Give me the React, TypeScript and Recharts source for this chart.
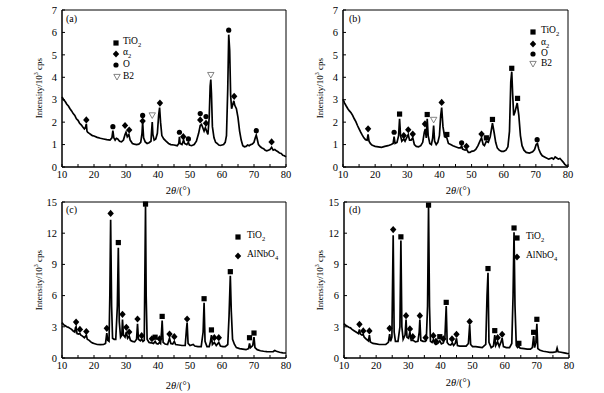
import { ComposedChart, Line, Scatter, XAxis, YAxis, ReferenceArea } from 'recharts'

type Pt = [number, number]

const FONT = '"Liberation Serif", "Times New Roman", serif'

const xTicks = [10, 15, 20, 25, 30, 35, 40, 45, 50, 55, 60, 65, 70, 75, 80]
const yTicksTop = [0, 1, 2, 3, 4, 5, 6, 7]
const yTicksBottom = [0, 3, 6, 9, 12, 15]

// (a)
const curveA: Pt[] = [
  [10, 3.12], [10.5, 3.0], [11, 2.92], [11.5, 2.8], [12, 2.72], [12.5, 2.6], [13, 2.5], [13.5, 2.38], [14, 2.3], [14.5, 2.15],
  [15, 2.08], [15.5, 1.95], [16, 1.88], [16.5, 1.78], [17, 1.7], [17.3, 1.75], [17.6, 1.92], [17.8, 1.6], [18, 1.55], [18.5, 1.5],
  [19, 1.45], [19.5, 1.4], [20, 1.38], [21, 1.32], [22, 1.28], [23, 1.25], [24, 1.22], [25, 1.2], [25.6, 1.3], [25.9, 1.62],
  [26.2, 1.3], [26.6, 1.2], [27, 1.28], [27.4, 1.25], [28, 1.15], [28.6, 1.12], [29.2, 1.2], [29.7, 1.45], [30, 1.55], [30.4, 1.35],
  [30.9, 1.45], [31.3, 1.2], [32, 1.05], [32.6, 1.02], [33.3, 1.0], [34, 1.02], [34.6, 1.1], [35.0, 1.5], [35.2, 2.0], [35.5, 1.3],
  [36, 1.12], [36.6, 1.05], [37.2, 1.08], [37.8, 1.15], [38.0, 1.6], [38.2, 2.0], [38.4, 1.45], [38.8, 1.2], [39.3, 1.25], [39.8, 1.5],
  [40.2, 2.3], [40.5, 2.65], [40.8, 2.0], [41.2, 1.4], [41.8, 1.25], [42.5, 1.15], [43.3, 1.05], [44, 1.0], [45, 0.98], [46, 0.95],
  [46.5, 1.05], [46.7, 1.35], [46.9, 1.05], [47.5, 1.0], [48, 1.2], [48.3, 1.05], [49, 1.0], [49.5, 1.1], [49.8, 0.98], [50.5, 0.95],
  [51.3, 1.0], [52, 1.15], [52.7, 1.5], [53.2, 1.85], [53.6, 1.9], [54, 1.75], [54.4, 1.6], [54.8, 1.75], [55.2, 1.6], [55.6, 1.45],
  [56.0, 2.2], [56.3, 3.6], [56.5, 3.9], [56.7, 3.3], [57.0, 1.8], [57.5, 1.3], [58, 1.1], [58.5, 1.05], [59, 0.98], [59.5, 0.96],
  [60, 0.98], [60.5, 1.0], [61, 1.1], [61.4, 1.4], [61.8, 3.5], [62.1, 5.9], [62.4, 5.2], [62.7, 3.2], [63.0, 2.6], [63.3, 2.75],
  [63.7, 2.95], [64.0, 2.75], [64.5, 2.6], [65, 2.2], [65.5, 1.6], [66, 1.2], [66.5, 0.95], [67, 0.9], [67.5, 0.92], [68, 0.98],
  [68.5, 0.95], [69, 1.0], [69.5, 1.02], [70, 1.1], [70.4, 1.3], [70.7, 1.42], [71, 1.25], [71.4, 1.0], [72, 0.9], [72.5, 0.85],
  [73, 0.82], [73.5, 0.75], [74, 0.72], [74.5, 0.75], [75, 0.78], [75.5, 0.88], [76, 0.75], [76.5, 0.78], [77, 0.72], [77.5, 0.68],
  [78, 0.62], [78.5, 0.6], [79, 0.52], [79.5, 0.5], [80, 0.45],
]
const alphaA: Pt[] = [[17.6, 2.1], [29.7, 1.85], [31, 1.65], [35.2, 2.05], [40.6, 2.85], [47.9, 1.35], [53.2, 2.1], [55, 1.95], [63.8, 3.15], [75.5, 1.12]]
const oxA: Pt[] = [[25.9, 1.8], [35.2, 2.3], [46.7, 1.55], [49.5, 1.25], [53.2, 2.38], [55, 2.25], [62.1, 6.1], [70.7, 1.62]]
const b2A: Pt[] = [[38.2, 2.3], [56.5, 4.1]]

// (b)
const curveB: Pt[] = [
  [10, 3.02], [10.5, 2.85], [11, 2.72], [11.5, 2.6], [12, 2.5], [12.5, 2.42], [13, 2.3], [13.5, 2.15], [14, 2.02], [14.5, 1.85],
  [15, 1.7], [15.5, 1.55], [16, 1.42], [16.5, 1.3], [17, 1.22], [17.5, 1.2], [17.8, 1.45], [18.1, 1.15], [18.5, 1.05], [19, 0.98],
  [19.5, 0.95], [20, 0.92], [21, 0.9], [22, 0.88], [23, 0.92], [24, 0.95], [25, 1.0], [25.6, 1.05], [25.9, 1.35], [26.2, 1.05],
  [26.8, 1.1], [27.3, 1.4], [27.6, 2.15], [27.9, 1.4], [28.3, 1.15], [28.9, 1.25], [29.3, 1.15], [29.8, 1.3], [30.3, 1.45], [30.7, 1.2],
  [31.2, 1.2], [31.7, 1.3], [32.2, 1.0], [32.8, 0.92], [33.5, 0.9], [34.2, 0.95], [34.8, 1.1], [35.3, 1.55], [35.6, 1.7], [35.9, 1.3],
  [36.2, 2.15], [36.5, 1.4], [37, 1.05], [37.5, 1.0], [37.9, 1.3], [38.2, 1.85], [38.5, 1.15], [39, 1.0], [39.5, 1.1], [40, 1.4],
  [40.4, 2.3], [40.7, 2.65], [41.1, 1.8], [41.6, 1.35], [42.3, 1.3], [42.8, 1.05], [43.5, 1.0], [44.2, 0.95], [45, 0.9], [46, 0.85],
  [46.6, 0.85], [46.9, 0.95], [47.2, 0.8], [48, 0.75], [48.5, 0.78], [49, 0.65], [49.5, 0.65], [50, 0.7], [50.7, 0.72], [51.3, 0.78],
  [52, 0.95], [52.6, 1.15], [53.1, 1.3], [53.6, 1.0], [54, 0.95], [54.6, 1.15], [55.2, 1.1], [55.8, 1.35], [56.5, 1.95], [57, 1.55],
  [57.5, 1.1], [58, 0.85], [58.6, 0.75], [59.3, 0.7], [60, 0.7], [60.7, 0.75], [61.3, 0.9], [61.8, 1.6], [62.2, 3.8], [62.5, 4.25],
  [62.8, 3.2], [63.1, 2.3], [63.5, 2.45], [64.2, 2.85], [64.7, 2.3], [65.2, 1.4], [65.7, 0.95], [66.3, 0.75], [67, 0.65], [68, 0.62],
  [69, 0.68], [69.6, 0.78], [70.1, 1.0], [70.5, 1.05], [70.9, 0.8], [71.5, 0.6], [72, 0.5], [73, 0.42], [74, 0.35], [75, 0.4],
  [75.5, 0.35], [76, 0.45], [76.5, 0.4], [77, 0.35], [77.5, 0.38], [78, 0.3], [78.5, 0.22], [79, 0.12], [79.5, 0.06], [80, 0.02],
]
const tioB: Pt[] = [[27.6, 2.36], [36.2, 2.34], [42.3, 1.45], [54.6, 1.3], [56.5, 2.12], [62.5, 4.4], [64.3, 3.06]]
const alphaB: Pt[] = [[17.8, 1.7], [28.9, 1.4], [30.3, 1.66], [31.7, 1.47], [35.5, 1.92], [40.7, 2.88], [48.4, 0.92], [53.1, 1.47]]
const oxB: Pt[] = [[25.9, 1.55], [46.9, 1.08], [70.4, 1.22]]
const b2B: Pt[] = [[38.2, 2.1]]

// (c)
const curveC: Pt[] = [
  [10, 3.4], [10.5, 3.2], [11, 3.1], [11.5, 3.0], [12, 2.95], [12.5, 2.85], [13, 2.75], [13.5, 2.6], [14, 2.5], [14.2, 2.9],
  [14.4, 3.0], [14.7, 2.35], [15.2, 2.3], [15.6, 2.35], [15.9, 2.2], [16.4, 2.1], [17, 1.95], [17.4, 2.1], [17.6, 2.2], [17.9, 1.8],
  [18.5, 1.7], [19, 1.55], [19.5, 1.45], [20, 1.4], [21, 1.3], [22, 1.28], [23, 1.3], [23.6, 1.4], [24.0, 2.4], [24.3, 1.7],
  [24.7, 1.6], [24.95, 6], [25.2, 13.3], [25.5, 5], [25.8, 1.9], [26.3, 1.8], [26.8, 1.8], [27.3, 5], [27.6, 10.6], [27.9, 3.5],
  [28.3, 2.0], [28.7, 2.2], [28.9, 3.7], [29.2, 2.2], [29.7, 2.0], [30.1, 2.5], [30.5, 1.9], [31, 2.1], [31.4, 1.7], [32, 1.6],
  [32.7, 1.55], [33.3, 1.8], [33.6, 3.3], [33.9, 1.8], [34.5, 1.65], [34.9, 1.8], [35.3, 1.6], [35.7, 1.7], [35.9, 8], [36.1, 14.6],
  [36.3, 6], [36.6, 1.8], [37.2, 1.5], [37.8, 1.45], [38.1, 1.45], [38.6, 1.4], [39.1, 1.6], [39.5, 1.4], [40, 1.35], [40.5, 1.5],
  [40.8, 1.4], [41.1, 2.5], [41.3, 3.6], [41.6, 1.5], [42.2, 1.35], [43, 1.3], [43.6, 1.9], [44, 1.4], [44.6, 1.35], [45.1, 1.6],
  [45.5, 1.3], [46.5, 1.25], [47.5, 1.2], [48.5, 1.2], [48.9, 2.8], [49.1, 3.4], [49.4, 1.4], [50, 1.2], [51, 1.3], [51.5, 1.15],
  [52.5, 1.1], [53.5, 1.1], [54.1, 2.5], [54.4, 5.3], [54.7, 1.6], [55.3, 1.1], [56, 1.1], [56.4, 1.6], [56.7, 2.2], [57, 1.3],
  [57.6, 1.5], [58.2, 1.2], [59, 1.5], [59.5, 1.15], [60.3, 1.1], [61, 1.1], [61.8, 1.3], [62.2, 4], [62.6, 7.9], [62.9, 4.5],
  [63.3, 1.8], [63.9, 1.3], [64.5, 1.0], [65.5, 0.9], [66.5, 0.85], [67.5, 0.8], [68.3, 0.9], [68.6, 1.4], [68.9, 1.0], [69.6, 1.2],
  [70.0, 2.0], [70.3, 1.0], [71, 0.8], [72, 0.7], [73, 0.65], [74, 0.62], [75, 0.6], [76, 0.62], [76.5, 0.72], [77, 0.65],
  [78, 0.55], [79, 0.5], [80, 0.48],
]
const tioC: Pt[] = [[27.6, 11.1], [36.1, 14.8], [39.1, 2.0], [41.3, 4.0], [54.4, 5.7], [56.7, 2.7], [62.6, 8.3], [68.6, 1.95], [70.0, 2.4]]
const alnC: Pt[] = [
  [14.4, 3.45], [15.6, 2.75], [17.6, 2.55], [24.0, 2.85], [25.2, 13.9], [28.9, 4.2], [30.1, 2.95], [31, 2.5], [33.6, 3.75],
  [34.9, 2.15], [38.1, 1.85], [40.5, 1.85], [43.6, 2.3], [45.1, 2.05], [49.1, 3.75], [57.6, 1.95], [59, 1.95],
]

// (d)
const curveD: Pt[] = [
  [10, 3.3], [10.5, 3.15], [11, 3.05], [11.5, 2.95], [12, 2.9], [12.5, 2.75], [13, 2.65], [13.5, 2.55], [14, 2.45], [14.5, 2.35],
  [14.8, 2.75], [15.1, 2.3], [15.6, 2.2], [16, 2.25], [16.3, 2.0], [17, 1.8], [17.6, 1.65], [17.9, 2.2], [18.2, 1.55], [19, 1.4],
  [20, 1.35], [21, 1.3], [22, 1.3], [23, 1.3], [23.8, 1.5], [24.2, 2.3], [24.5, 1.6], [24.9, 2], [25.3, 11.8], [25.6, 2.5],
  [26, 1.6], [26.8, 1.6], [27.4, 3], [27.7, 11.3], [28.0, 3], [28.4, 1.8], [29.0, 2.2], [29.3, 3.7], [29.6, 2.0], [30.1, 1.9],
  [30.5, 2.5], [30.9, 1.7], [31.5, 1.7], [32.2, 1.55], [33, 1.6], [33.4, 2.5], [33.6, 3.7], [33.9, 1.7], [34.6, 1.6], [35.3, 1.6],
  [35.6, 1.7], [36.0, 5], [36.3, 14.6], [36.6, 5], [36.9, 1.6], [37.4, 1.5], [37.8, 1.75], [38.2, 1.4], [38.6, 1.3], [39.2, 1.4],
  [39.8, 1.65], [40.3, 1.35], [40.9, 1.45], [41.4, 2], [41.8, 5.0], [42.1, 1.5], [42.6, 1.3], [43.2, 1.25], [43.7, 1.45], [44.1, 1.2],
  [44.6, 1.4], [45.0, 1.9], [45.3, 1.2], [46, 1.15], [47, 1.15], [48, 1.15], [48.7, 1.4], [49.1, 3.2], [49.4, 1.3], [50, 1.1],
  [51, 1.1], [52, 1.05], [53, 1.0], [54.1, 1.3], [54.5, 6], [54.8, 8.2], [55.1, 1.5], [55.8, 1.0], [56.5, 1.15], [56.9, 2.2],
  [57.2, 1.2], [57.8, 1.55], [58.3, 1.1], [58.8, 1.5], [59.2, 1.9], [59.6, 1.1], [60.5, 1.0], [61.5, 1.0], [62.2, 1.4], [62.6, 6],
  [62.9, 12.1], [63.2, 5], [63.6, 1.2], [64.0, 1.0], [64.4, 1.1], [64.8, 0.95], [66, 0.9], [67, 0.85], [68, 0.85], [68.6, 1.0],
  [69.0, 2.1], [69.3, 1.0], [69.7, 1.5], [70.0, 3.3], [70.3, 0.9], [71, 0.75], [72, 0.65], [73, 0.6], [74, 0.55], [75, 0.55],
  [76, 0.6], [76.3, 0.95], [76.6, 0.6], [77.5, 0.55], [78.5, 0.5], [79.3, 0.45], [80, 0.42],
]
const tioD: Pt[] = [[27.7, 11.65], [36.3, 14.7], [39.8, 2.05], [41.8, 5.35], [54.8, 8.6], [56.9, 2.63], [62.9, 12.5], [64.4, 1.41], [69.0, 2.47], [70.0, 3.72]]
const alnD: Pt[] = [
  [14.8, 3.24], [16.0, 2.6], [17.9, 2.6], [24.2, 2.85], [25.3, 12.35], [29.3, 4.07], [30.5, 2.8], [31.4, 2.05], [33.6, 4.07],
  [35.4, 1.95], [37.8, 2.15], [38.6, 1.6], [40.9, 1.83], [43.6, 1.83], [45.0, 2.28], [49.1, 3.5], [57.8, 1.95], [59.2, 2.28],
]

const toRows = (pts: Pt[]) => pts.map(([x, y]) => ({ x, y }))

const square = (p: any) => <rect x={p.cx - 2.6} y={p.cy - 2.6} width={5.2} height={5.2} fill="#000" />
const diamond = (p: any) => (
  <path d={`M${p.cx},${p.cy - 3.6}L${p.cx + 3.2},${p.cy}L${p.cx},${p.cy + 3.6}L${p.cx - 3.2},${p.cy}Z`} fill="#000" />
)
const circle = (p: any) => <circle cx={p.cx} cy={p.cy} r={2.6} fill="#000" />
const triangle = (p: any) => (
  <path d={`M${p.cx - 3.2},${p.cy - 2.6}L${p.cx + 3.2},${p.cy - 2.6}L${p.cx},${p.cy + 3}Z`} fill="#fff" stroke="#666" strokeWidth={0.8} />
)

const shapes: Record<string, (p: any) => any> = { square, diamond, circle, triangle }

interface MarkerSet {
  shape: string
  pts: Pt[]
}

interface PanelProps {
  left: number
  top: number
  margin: { top: number; right: number; bottom: number; left: number }
  yMax: number
  yTicks: number[]
  curve: Pt[]
  markers: MarkerSet[]
}

function Panel({ left, top, margin, yMax, yTicks, curve, markers }: PanelProps) {
  const tickStyle = { fontSize: 10.5, fill: '#000', fontFamily: FONT }
  return (
    <div style={{ position: 'absolute', left, top }}>
      <ComposedChart width={302} height={200} margin={margin}>
        <XAxis
          type="number"
          dataKey="x"
          domain={[10, 80]}
          ticks={xTicks}
          interval={0}
          tickSize={-3}
          tickMargin={7}
          height={30}
          tickFormatter={(v) => (v % 10 === 0 ? String(v) : '')}
          tick={tickStyle}
          axisLine={{ stroke: '#000' }}
          tickLine={{ stroke: '#000' }}
        />
        <YAxis
          type="number"
          dataKey="y"
          domain={[0, yMax]}
          ticks={yTicks}
          interval={0}
          tickSize={-3}
          tickMargin={8}
          width={40}
          tick={tickStyle}
          axisLine={{ stroke: '#000' }}
          tickLine={{ stroke: '#000' }}
        />
        <ReferenceArea x1={10} x2={80} y1={0} y2={yMax} fill="none" stroke="#000" strokeWidth={1} />
        <Line
          data={toRows(curve)}
          dataKey="y"
          type="linear"
          stroke="#000"
          strokeWidth={1.7}
          dot={false}
          isAnimationActive={false}
        />
        {markers.map((m, i) => (
          <Scatter key={i} data={toRows(m.pts)} shape={shapes[m.shape]} isAnimationActive={false} />
        ))}
      </ComposedChart>
    </div>
  )
}

const Sym = ({ shape, cx, cy }: { shape: string; cx: number; cy: number }) => (
  <svg style={{ position: 'absolute', left: cx - 6, top: cy - 6 }} width={12} height={12}>
    {shapes[shape]({ cx: 6, cy: 6 })}
  </svg>
)

const Txt = ({ x, y, children, size = 9.5, anchor = 'left' }: any) => (
  <div
    style={{
      position: 'absolute',
      left: x,
      top: y,
      transform: anchor === 'center' ? 'translate(-50%, -50%)' : 'translateY(-50%)',
      fontFamily: FONT,
      fontSize: size,
      whiteSpace: 'nowrap',
      lineHeight: 1,
      color: '#000',
    }}
  >
    {children}
  </div>
)

const YTitle = ({ x, y }: { x: number; y: number }) => (
  <div
    style={{
      position: 'absolute',
      left: x,
      top: y,
      transform: 'translate(-50%, -50%) rotate(-90deg)',
      fontFamily: FONT,
      fontSize: 9,
      whiteSpace: 'nowrap',
      lineHeight: 1,
    }}
  >
    Intensity/10<sup style={{ fontSize: 6 }}>3</sup> cps
  </div>
)

const XTitle = ({ x, y }: { x: number; y: number }) => (
  <Txt x={x} y={y} size={10.5} anchor="center">
    2<i>θ</i>/(°)
  </Txt>
)

const sub = (s: string) => <sub style={{ fontSize: 6.5 }}>{s}</sub>

export default function App() {
  return (
    <div style={{ position: 'absolute', left: 0, top: 0, width: 604, height: 393, background: '#fff', overflow: 'hidden' }}>
      <Panel
        left={0}
        top={0}
        margin={{ top: 10, right: 16, bottom: 3, left: 22 }}
        yMax={7}
        yTicks={yTicksTop}
        curve={curveA}
        markers={[
          { shape: 'diamond', pts: alphaA },
          { shape: 'circle', pts: oxA },
          { shape: 'triangle', pts: b2A },
        ]}
      />
      <Panel
        left={300}
        top={0}
        margin={{ top: 10, right: 34, bottom: 3, left: 3 }}
        yMax={7}
        yTicks={yTicksTop}
        curve={curveB}
        markers={[
          { shape: 'square', pts: tioB },
          { shape: 'diamond', pts: alphaB },
          { shape: 'circle', pts: oxB },
          { shape: 'triangle', pts: b2B },
        ]}
      />
      <Panel
        left={0}
        top={192}
        margin={{ top: 10, right: 16, bottom: 4, left: 22 }}
        yMax={15}
        yTicks={yTicksBottom}
        curve={curveC}
        markers={[
          { shape: 'square', pts: tioC },
          { shape: 'diamond', pts: alnC },
        ]}
      />
      <Panel
        left={300}
        top={192}
        margin={{ top: 10, right: 33, bottom: 4, left: 4 }}
        yMax={15}
        yTicks={yTicksBottom}
        curve={curveD}
        markers={[
          { shape: 'square', pts: tioD },
          { shape: 'diamond', pts: alnD },
        ]}
      />

      <YTitle x={38} y={88} />
      <YTitle x={319} y={88} />
      <YTitle x={38} y={280} />
      <YTitle x={319} y={280} />
      <XTitle x={178} y={191} />
      <XTitle x={458} y={191} />
      <XTitle x={178} y={386} />
      <XTitle x={458} y={383} />

      <Txt x={66} y={19} size={10}>(a)</Txt>
      <Txt x={349} y={19} size={10}>(b)</Txt>
      <Txt x={66} y={210} size={10}>(c)</Txt>
      <Txt x={349} y={210} size={10}>(d)</Txt>

      <Sym shape="square" cx={116} cy={43} />
      <Sym shape="diamond" cx={116} cy={54} />
      <Sym shape="circle" cx={116} cy={65} />
      <Sym shape="triangle" cx={117} cy={77} />
      <Txt x={123} y={43}>TiO{sub('2')}</Txt>
      <Txt x={123} y={54}>α{sub('2')}</Txt>
      <Txt x={123} y={65}>O</Txt>
      <Txt x={123} y={77}>B2</Txt>

      <Sym shape="square" cx={533} cy={32} />
      <Sym shape="diamond" cx={533} cy={43.5} />
      <Sym shape="circle" cx={533} cy={54} />
      <Sym shape="triangle" cx={533} cy={64} />
      <Txt x={541} y={32}>TiO{sub('2')}</Txt>
      <Txt x={541} y={43.5}>α{sub('2')}</Txt>
      <Txt x={541} y={54}>O</Txt>
      <Txt x={541} y={64}>B2</Txt>

      <Sym shape="square" cx={238} cy={237} />
      <Sym shape="diamond" cx={238} cy={256} />
      <Txt x={247} y={237}>TiO{sub('2')}</Txt>
      <Txt x={247} y={256}>AlNbO{sub('4')}</Txt>

      <Sym shape="square" cx={517} cy={238} />
      <Sym shape="diamond" cx={517} cy={257} />
      <Txt x={526} y={238}>TiO{sub('2')}</Txt>
      <Txt x={526} y={257}>AlNbO{sub('4')}</Txt>
    </div>
  )
}
